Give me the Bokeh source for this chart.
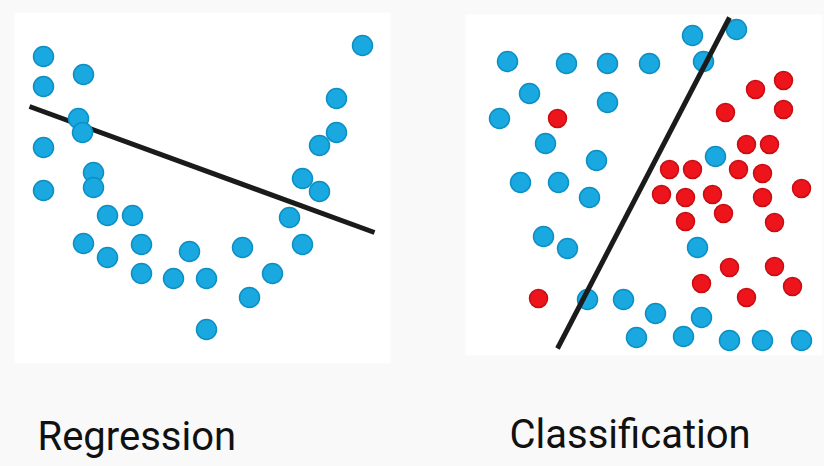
from bokeh.plotting import figure
from bokeh.models import Range1d, ColumnDataSource
from bokeh.core.properties import value
from bokeh.embed import file_html
from bokeh.resources import INLINE

# ---- data (page-pixel coordinates) ----
reg_x = [43, 43, 83, 78, 82, 43, 43, 93, 93, 107, 132, 83, 107, 141, 141, 173, 189, 206, 206,
         242, 272, 249, 289, 302, 302, 319, 319, 336, 336, 362]
reg_y = [56, 86, 74, 118, 132, 147, 190, 172, 187, 215, 215, 243, 257, 244, 273, 278, 251, 278, 329,
         247, 273, 297, 217, 244, 178, 191, 145, 132, 98, 45]
reg_line_x = [29, 374]
reg_line_y = [106, 232]

cls_blue_x = [692, 736, 507, 566, 607, 649, 703, 529, 607, 499, 545, 596, 715, 520, 558, 589,
              543, 567, 697, 587, 623, 655, 701, 636, 683, 729, 762, 801]
cls_blue_y = [35, 29, 61, 63, 63, 63, 61, 93, 102, 118, 143, 160, 156, 182, 182, 197,
              236, 248, 247, 299, 299, 313, 317, 337, 336, 340, 340, 340]
cls_red_x = [783, 755, 725, 783, 557, 746, 769, 669, 692, 738, 762, 661, 685, 712, 762, 801,
             723, 685, 774, 729, 774, 701, 792, 746, 538]
cls_red_y = [80, 89, 112, 109, 118, 144, 144, 169, 169, 169, 173, 194, 197, 194, 197, 188,
             213, 221, 222, 267, 266, 283, 286, 297, 298]
cls_line_x = [557, 729]
cls_line_y = [348, 17]

panel_left = [14, 465]
panel_right = [390, 822]
panel_top = [12, 14]
panel_bottom = [363, 355]

labels = ["Regression", "Classification"]
label_x = [37, 509]
label_y = [436, 434]

BG = "#f9f9f9"
BLUE = "#19a9e0"
BLUE_EDGE = "#0d8fc4"
RED = "#ee141c"
RED_EDGE = "#c70d12"

p = figure(width=824, height=466, output_backend="svg", toolbar_location=None,
           x_range=Range1d(0, 824), y_range=Range1d(466, 0),
           min_border=0, background_fill_color=BG, border_fill_color=BG)
p.axis.visible = False
p.grid.visible = False
p.outline_line_color = None

p.quad(left=panel_left, right=panel_right, top=panel_top, bottom=panel_bottom,
       fill_color="white", line_color=None)

# Regression panel
p.line(reg_line_x, reg_line_y, line_color="#1b1b1b", line_width=5)
p.scatter(reg_x, reg_y, size=20, fill_color=BLUE, line_color=BLUE_EDGE, line_width=1.5)

# Classification panel
p.scatter(cls_blue_x, cls_blue_y, size=20, fill_color=BLUE, line_color=BLUE_EDGE, line_width=1.5)
p.scatter(cls_red_x, cls_red_y, size=18, fill_color=RED, line_color=RED_EDGE, line_width=1.5)
p.line(cls_line_x, cls_line_y, line_color="#1b1b1b", line_width=5)

src = ColumnDataSource(dict(x=label_x, y=label_y, t=labels))
p.text(x="x", y="y", text="t", source=src, text_font=value("Roboto"),
       text_font_size="40px", text_color="#111111", text_baseline="alphabetic",
       text_align="left")

html = file_html(p, INLINE)
html = html.replace("<body>", '<body style="margin:0;overflow:hidden;background:#f9f9f9">')
open("out.html", "w").write(html)
